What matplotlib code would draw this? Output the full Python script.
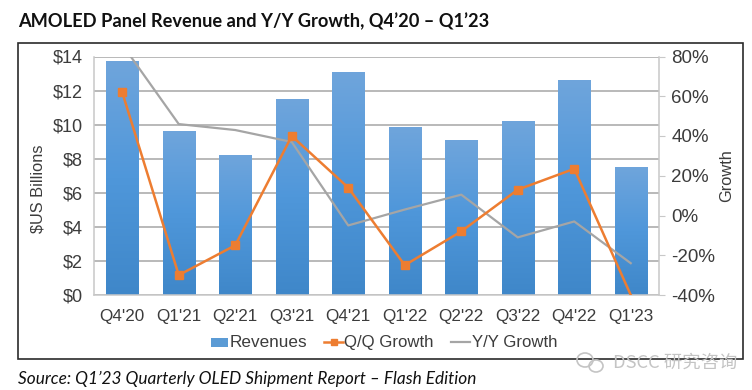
import numpy as np
import matplotlib
matplotlib.use('Agg')
import matplotlib.pyplot as plt
from matplotlib.patches import Rectangle, Ellipse
from matplotlib.colors import LinearSegmentedColormap

quarters = ["Q4'20", "Q1'21", "Q2'21", "Q3'21", "Q4'21", "Q1'22", "Q2'22", "Q3'22", "Q4'22", "Q1'23"]
revenues = [13.7, 9.6, 8.2, 11.5, 13.05, 9.85, 9.05, 10.2, 12.6, 7.5]
qq_growth = [62, -30, -15, 40, 14, -25, -8, 13, 23.5, -40]
yy_growth = [86, 46, 43, 37, -5, 3, 10.5, -11, -3, -24]
rev_ticks = [0, 2, 4, 6, 8, 10, 12, 14]
growth_ticks = [-40, -20, 0, 20, 40, 60, 80]

W, H = 752, 390
ORANGE = '#ED7D31'
GREY = '#A5A5A5'
TEXT = '#3c3c3c'

plt.rcParams['font.family'] = ['Liberation Sans', 'DejaVu Sans']

fig = plt.figure(figsize=(W / 100, H / 100), dpi=100)
ax = fig.add_axes([94 / W, 1 - 295 / H, 565 / W, 238.5 / H])
ax2 = ax.twinx()

x = np.arange(len(quarters))
cmap = LinearSegmentedColormap.from_list('bar', ['#3f87c9', '#4f97da', '#6fa5dc'])
grad = np.linspace(1, 0, 256).reshape(-1, 1)

bars = ax.bar(x, revenues, width=0.57, color='#5b9bd5', zorder=2)
for b in bars:
    # gradient runs top to bottom inside each bar
    im = ax.imshow(grad, cmap=cmap, aspect='auto', zorder=2.1,
                   extent=[b.get_x(), b.get_x() + b.get_width(), 0, b.get_height()])

ax.set_xlim(-0.5, 9.5)
ax.set_ylim(0, 14)
ax.set_yticks(rev_ticks)
ax.set_yticklabels(['$%d' % v for v in rev_ticks])
ax.set_xticks(x)
ax.set_xticklabels(quarters)
ax.set_ylabel('$US Billions', fontsize=11.8, color=TEXT)
ax.yaxis.set_label_coords((45 - 94) / 565, 1 - (189 - 56.5) / 238.5)
ax.grid(axis='y', color='#a6a6a6', lw=1.1, zorder=1)
ax.set_axisbelow(True)
ax.tick_params(axis='y', length=0, labelsize=13, labelcolor=TEXT, pad=8)
ax.tick_params(axis='x', length=0, labelsize=12.3, labelcolor=TEXT, pad=10)

ax2.plot(x, yy_growth, color=GREY, lw=1.6, zorder=3)
ax2.plot(x, qq_growth, color=ORANGE, lw=1.8, marker='s', ms=6, zorder=4,
         markevery=list(range(9)))
ax2.set_ylim(-40, 80)
ax2.set_yticks(growth_ticks)
ax2.set_yticklabels(['%d%%' % v for v in growth_ticks])
ax2.set_ylabel('Growth', fontsize=11.8, color=TEXT)
ax2.yaxis.set_label_coords((719 - 94) / 565, 0.5)
ax2.tick_params(axis='y', length=4, color='#c8c8c8', labelsize=13.5, labelcolor=TEXT, pad=5)

for a in (ax, ax2):
    for s in a.spines.values():
        s.set_visible(False)
for s in ('left', 'bottom'):
    ax.spines[s].set_visible(True)
    ax.spines[s].set_color('#c8c8c8')
    ax.spines[s].set_linewidth(1.1)
ax2.spines['right'].set_visible(True)
ax2.spines['right'].set_color('#c8c8c8')
ax2.spines['right'].set_linewidth(1.1)

# outer frame
fig.add_artist(Rectangle((18 / W, 1 - 359 / H), 725 / W, 316 / H, transform=fig.transFigure,
                         fill=False, ec='#2b2b2b', lw=1.2))

fig.text(18 / W, 1 - 21 / H, 'AMOLED Panel Revenue and Y/Y Growth, Q4\u201920 \u2013 Q1\u201923',
         family='Lato', weight='bold', fontsize=13.15, color='#111111', va='center')
fig.text(18 / W, 1 - 379 / H, 'Source: Q1\u201923 Quarterly OLED Shipment Report \u2013 Flash Edition',
         family='Lato', style='italic', fontsize=12.45, color='#111111', va='center')

# legend, placed by hand to sit like the original
ly = 1 - 342 / H
base = 1 - 347 / H
fig.add_artist(Rectangle((211 / W, ly - 4.5 / H), 17 / W, 9 / H, transform=fig.transFigure,
                         fc='#5b9bd5', ec='none'))
fig.text(230 / W, base, 'Revenues', fontsize=12.3, color=TEXT, va='baseline')
fig.add_artist(plt.Line2D([324 / W, 343 / W], [ly, ly], color=ORANGE, lw=1.8, transform=fig.transFigure))
fig.add_artist(plt.Line2D([333.5 / W], [ly], color=ORANGE, marker='s', ms=5, transform=fig.transFigure))
fig.text(344 / W, base, 'Q/Q Growth', fontsize=12.1, color=TEXT, va='baseline')
fig.add_artist(plt.Line2D([451 / W, 470 / W], [ly, ly], color=GREY, lw=1.6, transform=fig.transFigure))
fig.text(472 / W, base, 'Y/Y Growth', fontsize=12.1, color=TEXT, va='baseline')

# watermark
wm = '#c4c4c4'
fig.add_artist(Ellipse((585 / W, 1 - 360 / H), 16 / W, 14 / H, transform=fig.transFigure,
                       fill=False, ec=wm, lw=1.2))
fig.add_artist(Ellipse((596 / W, 1 - 366 / H), 14 / W, 12 / H, transform=fig.transFigure,
                       fill=False, ec=wm, lw=1.2))
fig.text(613 / W, 1 - 363 / H, 'DSCC 研究咨询', family=['Noto Sans CJK SC', 'DejaVu Sans'],
         fontsize=13.2, color=wm, va='center')

fig.savefig('out.png', dpi=100)
